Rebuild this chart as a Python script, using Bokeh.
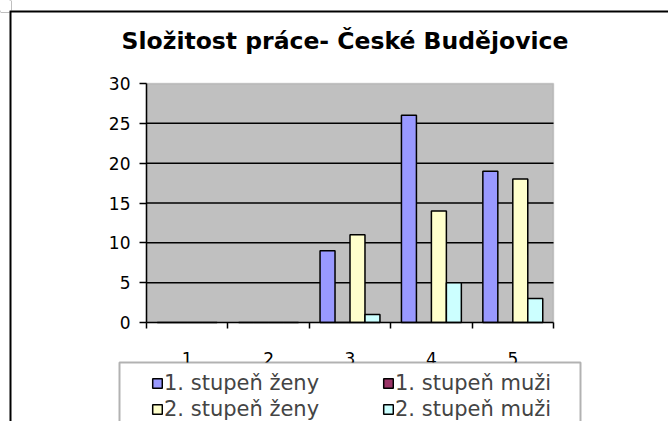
from bokeh.plotting import figure
from bokeh.models import (ColumnDataSource, Range1d, FixedTicker, Legend, LegendItem,
                          LinearAxis, BoxAnnotation, Span, Label)
from bokeh.transform import dodge
from bokeh.embed import file_html
from bokeh.resources import INLINE

# ---- data ----
title_text = "Složitost práce- České Budějovice"
categories = [1, 2, 3, 4, 5]
zeny_1 = [0, 0, 9, 26, 19]
muzi_1 = [0, 0, 0, 0, 0]
zeny_2 = [0, 0, 11, 14, 18]
muzi_2 = [0, 0, 1, 5, 3]
series_names = ["1. stupeň ženy", "1. stupeň muži", "2. stupeň ženy", "2. stupeň muži"]
series_colors = ["#9999FF", "#993366", "#FFFFCC", "#CCFFFF"]
y_ticks = [0, 5, 10, 15, 20, 25, 30]

# ---- layout (pixels on the canvas) ----
W, H = 668, 421
PL, PR, PT, PB = 146, 553, 83, 322      # plot area edges
x_lo, x_hi = categories[0] - 0.5, categories[-1] + 0.5
y_lo, y_hi = y_ticks[0], y_ticks[-1]
sx = (PR - PL) / (x_hi - x_lo)
sy = (PB - PT) / (y_hi - y_lo)
x_range = Range1d(x_lo - PL / sx, x_hi + (W - PR) / sx)
y_range = Range1d(y_lo - (H - PB) / sy, y_hi + PT / sy)

FONT = "DejaVu Sans"

source = ColumnDataSource(data=dict(cat=categories, z1=zeny_1, m1=muzi_1, z2=zeny_2, m2=muzi_2))
grid_src = ColumnDataSource(data=dict(y=y_ticks[1:-1], x0=[x_lo] * (len(y_ticks) - 2),
                                      x1=[x_hi] * (len(y_ticks) - 2)))

p = figure(width=W, height=H, output_backend="svg", toolbar_location=None,
           x_range=x_range, y_range=y_range, x_axis_location=None, y_axis_location=None,
           min_border=0)
p.outline_line_color = None
p.background_fill_color = "#FFFFFF"
p.border_fill_color = "#FFFFFF"
p.grid.visible = False

# outer chart border (only its left and top edges fall inside the picture)
p.add_layout(Span(location=10, location_units="screen", dimension="height",
                  line_color="#000000", line_width=2))
p.add_layout(Span(location=H - 11, location_units="screen", dimension="width",
                  line_color="#000000", line_width=2))
# white-out the bits of those lines outside the chart's corner
for r_edge, b_edge in [(11, H - 10), (9, H - 12)]:
    p.add_layout(BoxAnnotation(left=0, right=r_edge, top=H, bottom=b_edge,
                               left_units="screen", right_units="screen",
                               top_units="screen", bottom_units="screen",
                               fill_color="#FFFFFF", fill_alpha=1.0, line_color=None))

# plot area
p.add_layout(BoxAnnotation(left=x_lo, right=x_hi, bottom=y_lo, top=y_hi,
                           fill_color="#C0C0C0", fill_alpha=1.0,
                           line_color="#808080", line_width=1.5, level="underlay"))

# gridlines
p.segment(x0="x0", x1="x1", y0="y", y1="y", source=grid_src, line_color="#000000", line_width=1.5)

# bars
bar_w = 0.184
offsets = [-0.276, -0.092, 0.092, 0.276]
fields = ["z1", "m1", "z2", "m2"]
renderers = []
for f, off, col in zip(fields, offsets, series_colors):
    r = p.vbar(x=dodge("cat", off, range=p.x_range), top=f, width=bar_w, source=source,
               fill_color=col, line_color="#000000", line_width=1.5)
    renderers.append(r)

# y axis
yaxis = LinearAxis(fixed_location=x_lo, bounds=(y_lo, y_hi), ticker=FixedTicker(ticks=y_ticks))
yaxis.axis_line_color = "#000000"
yaxis.axis_line_width = 1.5
yaxis.major_tick_out = 7
yaxis.major_tick_in = 0
yaxis.major_tick_line_width = 1.5
yaxis.minor_tick_line_color = None
yaxis.major_label_standoff = 9
yaxis.major_label_text_font = FONT
yaxis.major_label_text_font_size = "17px"
yaxis.major_label_text_color = "#000000"
p.add_layout(yaxis, "left")

# x axis: labels at category centres, ticks at category boundaries
xaxis = LinearAxis(fixed_location=y_lo, bounds=(x_lo, x_hi),
                   ticker=FixedTicker(ticks=categories,
                                      minor_ticks=[c - 0.5 for c in categories] + [x_hi]))
xaxis.axis_line_color = "#000000"
xaxis.axis_line_width = 1.5
xaxis.major_tick_out = 0
xaxis.major_tick_in = 0
xaxis.minor_tick_out = 6
xaxis.minor_tick_in = 0
xaxis.minor_tick_line_color = "#000000"
xaxis.minor_tick_line_width = 1.5
xaxis.major_label_standoff = 23
xaxis.major_label_text_font = FONT
xaxis.major_label_text_font_size = "17px"
xaxis.major_label_text_color = "#000000"
p.add_layout(xaxis, "below")

# title
p.add_layout(Label(x=344.5, y=H - 40.5, x_units="screen", y_units="screen", text=title_text,
                   text_align="center", text_baseline="middle", text_font=FONT,
                   text_font_style="bold", text_font_size="23.5px", text_color="#000000"))

# legend frame
p.add_layout(BoxAnnotation(left=119, right=580, top=H - 362, bottom=-40,
                           left_units="screen", right_units="screen",
                           top_units="screen", bottom_units="screen",
                           fill_color="#FFFFFF", fill_alpha=1.0,
                           line_color="#000000", line_width=2))

# legend: two columns
legend_style = dict(label_text_font=FONT, label_text_font_size="21px",
                    label_height=25, glyph_height=12, glyph_width=12,
                    label_standoff=1, spacing=1, padding=0, margin=0,
                    border_line_color=None, background_fill_alpha=0.0)
col_a = [LegendItem(label=series_names[0], renderers=[renderers[0]]),
         LegendItem(label=series_names[2], renderers=[renderers[2]])]
col_b = [LegendItem(label=series_names[1], renderers=[renderers[1]]),
         LegendItem(label=series_names[3], renderers=[renderers[3]])]
p.add_layout(Legend(items=col_a, location=(151, 0), **legend_style), "center")
p.add_layout(Legend(items=col_b, location=(382, 0), **legend_style), "center")

open("out.html", "w").write(file_html(p, INLINE))
